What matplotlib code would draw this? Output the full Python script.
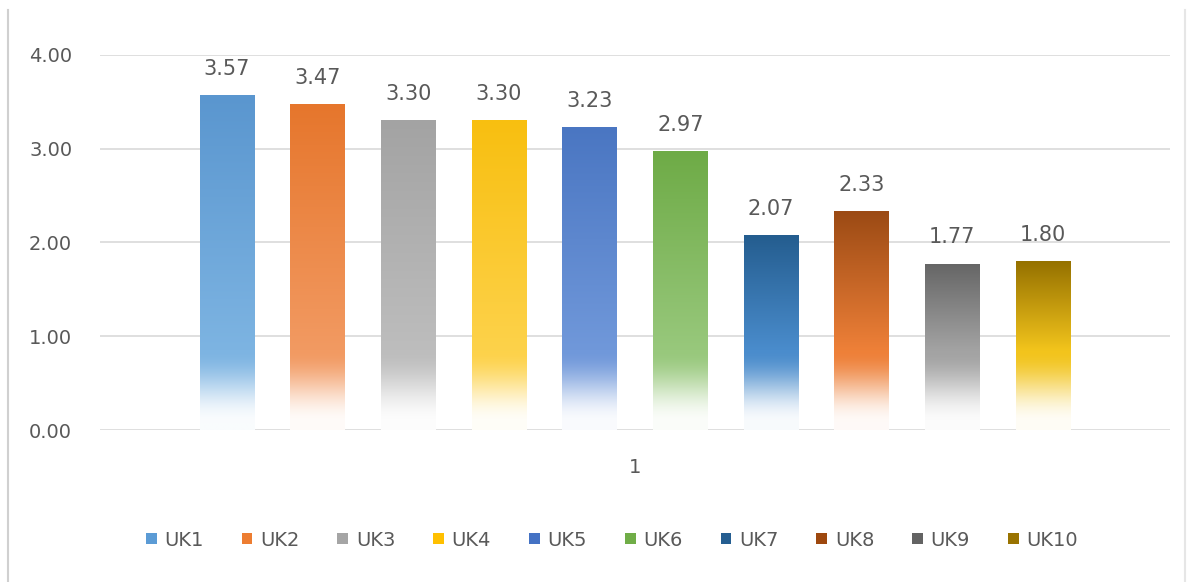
import matplotlib
matplotlib.use("Agg")
import matplotlib.pyplot as plt
import numpy as np
from matplotlib.colors import to_rgb
from matplotlib.patches import Patch
from matplotlib.lines import Line2D

names = ['UK1', 'UK2', 'UK3', 'UK4', 'UK5', 'UK6', 'UK7', 'UK8', 'UK9', 'UK10']
values = [3.57, 3.47, 3.30, 3.30, 3.23, 2.97, 2.07, 2.33, 1.77, 1.80]
category = '1'
yticks = [0, 1, 2, 3, 4]

# top colour and lower colour of each gradient bar
top_colors = ['#5a96cf', '#e6762c', '#a3a3a3', '#f8bf10', '#4a76c2', '#6eab46',
              '#245d8f', '#9b4a14', '#666666', '#957100']
low_colors = ['#7db4e2', '#f29a62', '#bdbdbd', '#fdd24a', '#7098da', '#98c87c',
              '#4a8ccc', '#ee8038', '#a3a3a3', '#f2c41c']
legend_colors = ['#5b9bd5', '#ed7d31', '#a5a5a5', '#ffc000', '#4472c4', '#70ad47',
                 '#255e91', '#9e480e', '#636363', '#997300']

text_grey = '#595959'

fig = plt.figure(figsize=(12.01, 5.82), dpi=100)
ax = fig.add_axes([100 / 1201, 152 / 582, 1070 / 1201, 375 / 582])

width = 0.6
x = np.arange(len(values))
for i, h in enumerate(values):
    ys = np.linspace(0, h, 400)
    white = np.array([1.0, 1.0, 1.0])
    low = np.array(to_rgb(low_colors[i]))
    top = np.array(to_rgb(top_colors[i]))
    # smooth fade to white near the base
    t = np.clip((ys - 0.08) / (0.85 - 0.08), 0, 1)
    t = t * t * (3 - 2 * t)
    u = np.clip((ys - 0.85) / max(h - 0.85, 0.01), 0, 1)
    img = np.zeros((len(ys), 1, 3))
    for c in range(3):
        base = low[c] + (top[c] - low[c]) * u
        img[:, 0, c] = np.where(ys < 0.85, white[c] + (low[c] - white[c]) * (0.04 + 0.96 * t), base)
    ax.imshow(img, extent=[x[i] - width / 2, x[i] + width / 2, 0, h],
              origin='lower', aspect='auto', interpolation='bilinear', zorder=3)
    ax.annotate(f'{h:.2f}', (x[i], h), xytext=(0, 12), textcoords='offset points',
                ha='center', va='bottom', fontsize=15, color=text_grey)

ax.set_xlim(-1.4, 10.4)
ax.set_ylim(0, 4)
ax.set_yticks(yticks)
ax.set_yticklabels([f'{v:.2f}' for v in yticks])
ax.set_xticks([(len(values) - 1) / 2])
ax.set_xticklabels([category])
ax.tick_params(axis='y', length=0, pad=20, labelsize=14, labelcolor=text_grey)
ax.tick_params(axis='x', length=0, pad=20, labelsize=14, labelcolor=text_grey)
ax.grid(axis='y', color='#d9d9d9', linewidth=1.2, zorder=0)
ax.set_axisbelow(True)
for s in ax.spines.values():
    s.set_visible(False)

handles = [Patch(facecolor=c, edgecolor='none') for c in legend_colors]
fig.legend(handles, names, loc='center', bbox_to_anchor=(612 / 1201, 1 - 540 / 582),
           ncol=10, frameon=False, fontsize=14, labelcolor=text_grey,
           handlelength=0.55, handleheight=0.55, handletextpad=0.4, columnspacing=1.95)

# chart border
fig.add_artist(Line2D([8 / 1201, 8 / 1201], [0, 1 - 10 / 582], color='#d0d0d0', lw=1.5))
fig.add_artist(Line2D([1185 / 1201, 1185 / 1201], [0, 1 - 10 / 582], color='#e6e6e6', lw=1.5))

fig.savefig('out.png', dpi=100)
